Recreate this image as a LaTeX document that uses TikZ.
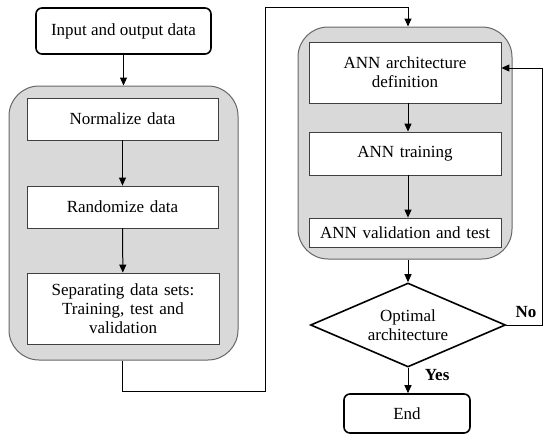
\documentclass[tikz,border=0pt]{standalone}
\usepackage{fontspec}
\setmainfont{Liberation Serif}
\usetikzlibrary{arrows.meta,positioning,shapes.geometric,calc}
\definecolor{panelgrey}{HTML}{D9D9D9}

\begin{document}
\begin{tikzpicture}[x=1pt,y=-1pt,font=\fontsize{17}{19}\selectfont,
  proc/.style={draw=black!75,fill=white,line width=0.8pt,text width=185pt,align=center,inner sep=0pt},
  term/.style={draw,fill=white,rounded corners=6pt,line width=1.6pt,inner sep=0pt},
  panel/.style={draw=black!60,fill=panelgrey,rounded corners=30pt,line width=1pt,inner sep=0pt},
  flow/.style={-{Triangle[length=8pt,width=7pt]},line width=1pt}]
\useasboundingbox (0,0) rectangle (550,442);
\node[term,minimum width=175pt,minimum height=46pt] (input) at (123.5,31) {Input and output data};
\node[panel,minimum width=229pt,minimum height=274pt] (prep) at (123.5,223) {};
\node[proc,minimum width=191pt,minimum height=42pt] (norm) at (122.5,119) {Normalize data};
\node[proc,minimum width=191pt,minimum height=42pt] (rand) at (122.5,207) {Randomize data};
\node[proc,minimum width=192pt,minimum height=71pt] (sep) at (123,308.5) {Separating data sets:\\Training, test and\\validation};
\node[panel,minimum width=214pt,minimum height=232pt] (annpanel) at (405,143) {};
\node[proc,minimum width=192pt,minimum height=61pt] (arch) at (405,72.5) {ANN architecture\\definition};
\node[proc,minimum width=192pt,minimum height=43pt] (train) at (405,153.5) {ANN training};
\node[proc,minimum width=192pt,minimum height=29pt] (valid) at (405,232.5) {ANN validation and test};
\node[diamond,draw,fill=white,line width=1.6pt,shape aspect=2.3,inner sep=0pt,minimum width=195pt,minimum height=84pt,align=center] (opt) at (408,325) {Optimal\\architecture};
\node[term,minimum width=126pt,minimum height=39pt] (end) at (407,413.5) {End};
\coordinate (lowturn) at (265,391);
\coordinate (topturn) at (265,7);
\coordinate (noturn) at (542,325);
\draw[flow] (input) -- (prep.north -| input);
\draw[flow] (norm) -- (rand);
\draw[flow] (rand) -- (sep);
\draw[flow] (prep.south -| norm) |- (lowturn) -- (topturn) -| (annpanel.north -| opt.north);
\draw[flow] (arch.south -| opt.north) -- (train.north -| opt.north);
\draw[flow] (train.south -| opt.north) -- (valid.north -| opt.north);
\draw[flow] (annpanel.south -| opt.north) -- (opt.north);
\draw[flow] (opt.south) -- node[right=13pt,pos=0.3,font=\fontsize{17}{19}\selectfont\bfseries]{Yes} (end.north -| opt.south);
\draw[flow] (opt.east) -- (noturn) |- ([yshift=4.5pt]arch.east);
\node[font=\fontsize{17}{19}\selectfont\bfseries] (nolabel) at (526,312) {No};
\end{tikzpicture}
\end{document}
